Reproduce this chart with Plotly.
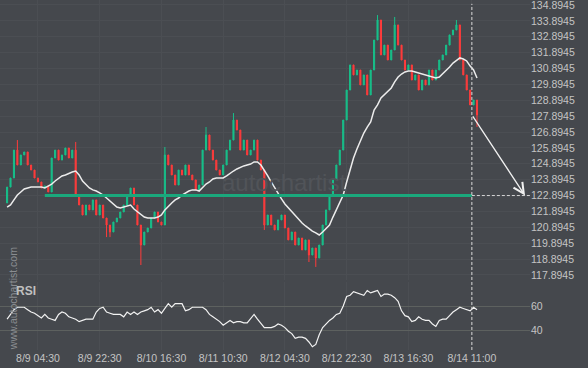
import plotly.graph_objects as go
from plotly.subplots import make_subplots
import pandas as pd

# ---------------- data ----------------
start_time = "2019-08-08 19:30"
first_open = 122.43
closes = [
    123.43, 124.00, 125.76, 124.82, 125.45, 125.64, 124.82, 124.50, 124.00, 123.75,
    123.37, 123.50, 123.12, 125.26, 125.76, 125.13, 125.45, 125.89, 125.26, 125.76,
    122.93, 122.30, 121.67, 122.30, 121.99, 122.62, 121.67, 122.30, 121.48, 121.04,
    120.60, 121.23, 121.48, 121.86, 122.30, 122.93, 123.37, 122.30, 121.04, 119.78,
    120.60, 120.85, 121.48, 121.86, 121.23, 121.04, 125.45, 124.82, 124.19, 123.56,
    124.50, 124.19, 124.82, 124.19, 123.88, 123.25, 123.56, 125.76, 126.71, 125.76,
    125.13, 124.50, 124.19, 124.82, 125.76, 126.39, 127.65, 127.02, 125.76, 126.39,
    125.45, 125.76, 126.39, 125.13, 124.50, 121.04, 121.67, 121.04, 120.73, 121.36,
    121.67, 120.85, 120.10, 120.60, 119.78, 120.22, 119.47, 120.10, 119.15, 119.59,
    118.96, 119.78, 121.04, 121.99, 122.93, 123.88, 124.82, 125.76, 127.65, 129.54,
    131.12, 130.49, 130.80, 129.86, 130.49, 129.23, 130.80, 132.69, 133.95, 131.75,
    132.37, 131.43, 132.06, 133.64, 132.37, 131.43, 130.80, 131.12, 130.17, 130.49,
    129.54, 130.17, 129.86, 130.80, 130.17, 130.80, 131.43, 131.75, 132.37, 133.01,
    133.32, 133.64, 131.43, 130.49, 129.54, 128.60, 128.91, 127.97,
]
wick_highs = {3: 126.39, 20: 126.27, 46: 125.95, 58: 127.21, 66: 128.09,
              108: 134.26, 113: 134.14, 131: 133.95}
wick_lows = {29: 120.28, 30: 120.28, 39: 118.52, 75: 120.73, 88: 118.71,
             90: 118.40, 137: 127.21}
moving_avg = [
    122.17, 122.30, 122.62, 122.93, 123.12, 123.31, 123.37, 123.43, 123.43, 123.43,
    123.43, 123.37, 123.50, 123.62, 123.81, 124.00, 124.13, 124.19, 124.31, 124.38,
    124.44, 124.19, 123.81, 123.56, 123.37, 123.25, 123.18, 123.06, 122.93, 122.74,
    122.55, 122.30, 122.17, 122.11, 122.17, 122.24, 122.30, 122.05, 121.86, 121.67,
    121.54, 121.48, 121.48, 121.48, 121.54, 121.67, 121.99, 122.24, 122.43, 122.62,
    122.74, 122.93, 123.06, 123.18, 123.25, 123.25, 123.18, 123.43, 123.62, 123.75,
    123.94, 124.00, 124.00, 124.00, 124.13, 124.31, 124.44, 124.57, 124.69, 124.76,
    124.82, 124.88, 125.01, 125.01, 124.82, 124.50, 124.13, 123.75, 123.37, 123.06,
    122.68, 122.36, 122.11, 121.86, 121.61, 121.36, 121.17, 120.98, 120.79, 120.66,
    120.54, 120.41, 120.60, 120.79, 121.04, 121.54, 121.99, 122.43, 122.93, 123.75,
    124.50, 125.26, 125.83, 126.39, 126.83, 127.21, 127.53, 128.28, 128.60, 129.04,
    129.23, 129.42, 129.67, 130.05, 130.36, 130.55, 130.68, 130.74, 130.74, 130.68,
    130.61, 130.55, 130.49, 130.42, 130.36, 130.30, 130.36, 130.55, 130.74, 130.99,
    131.24, 131.43, 131.56, 131.49, 131.37, 131.05, 130.80, 130.30,
]
rsi = [
    49, 53, 57, 59, 59, 59, 57, 55, 54, 52,
    50, 53, 50, 49, 48, 53, 55, 54, 51, 50,
    49, 47, 48, 49, 49, 49, 55, 58, 59, 55,
    54, 53, 53, 53, 51, 55, 53, 55, 53, 55,
    56, 57, 59, 55, 57, 54, 58, 62, 59, 62,
    62, 62, 56, 57, 59, 59, 59, 59, 57, 53,
    51, 49, 47, 44, 46, 48, 46, 47, 47, 46,
    46, 50, 53, 49, 45, 42, 42, 42, 43, 45,
    44, 42, 39, 37, 33, 34, 34, 33, 30, 26,
    28, 36, 42, 45, 48, 50, 53, 54, 60, 68,
    69, 72, 71, 70, 69, 73, 71, 72, 73, 68,
    70, 70, 69, 67, 64, 56, 52, 51, 47, 48,
    51, 49, 48, 48, 45, 43, 48, 49, 49, 52,
    55, 57, 59, 58, 57, 56, 59, 57,
]
price_ticks = [117.8945, 118.8945, 119.8945, 120.8945, 121.8945, 122.8945,
               123.8945, 124.8945, 125.8945, 126.8945, 127.8945, 128.8945,
               129.8945, 130.8945, 131.8945, 132.8945, 133.8945, 134.8945]
rsi_ticks = [40, 60]
time_ticks = ["2019-08-09 04:30", "2019-08-09 22:30", "2019-08-10 16:30",
              "2019-08-11 10:30", "2019-08-12 04:30", "2019-08-12 22:30",
              "2019-08-13 16:30", "2019-08-14 11:00"]
time_labels = ["8/9 04:30", "8/9 22:30", "8/10 16:30", "8/11 10:30",
               "8/12 04:30", "8/12 22:30", "8/13 16:30", "8/14 11:00"]

level = 122.8945
level_start = "2019-08-09 06:30"
signal_time = "2019-08-14 11:00"
arrow_start_price = 127.97
arrow_end_time = "2019-08-15 02:30"
x_range = ["2019-08-08 17:26", "2019-08-15 03:57"]
price_range = [117.577, 135.209]
rsi_range = [23.3, 80]

# ---------------- build ----------------
times = pd.date_range(start_time, periods=len(closes), freq="h")
opens = [first_open] + closes[:-1]
highs = [max(o, c) for o, c in zip(opens, closes)]
lows = [min(o, c) for o, c in zip(opens, closes)]
for k, v in wick_highs.items():
    highs[k] = v
for k, v in wick_lows.items():
    lows[k] = v

BG = "#45484d"
GREEN = "#17c08a"
RED = "#ff3b3b"
LEVEL_GREEN = "#1aa87c"
TXT = "#c4c4c4"
FONT = "Arial, Liberation Sans, sans-serif"

fig = make_subplots(rows=2, cols=1, shared_xaxes=True)

fig.add_trace(go.Candlestick(
    x=times, open=opens, high=highs, low=lows, close=closes,
    increasing=dict(line=dict(color=GREEN, width=1), fillcolor=GREEN),
    decreasing=dict(line=dict(color=RED, width=1), fillcolor=RED),
    hoverinfo="skip", showlegend=False), row=1, col=1)

fig.add_trace(go.Scatter(
    x=times, y=moving_avg, mode="lines",
    line=dict(color="#ececec", width=1.5), hoverinfo="skip",
    showlegend=False), row=1, col=1)

fig.add_trace(go.Scatter(
    x=times, y=rsi, mode="lines",
    line=dict(color="#f2f2f2", width=1.2), hoverinfo="skip",
    showlegend=False), row=2, col=1)

# level line (solid green) and dashed continuation
fig.add_shape(type="line", xref="x", yref="y", x0=level_start, x1=signal_time,
              y0=level, y1=level, line=dict(color=LEVEL_GREEN, width=3))
fig.add_shape(type="line", xref="x", yref="y", x0=signal_time, x1=x_range[1],
              y0=level, y1=level, line=dict(color="#d8d8d8", width=1, dash="3px,2px"))
# vertical dashed signal line across both panels
fig.add_shape(type="line", xref="x", yref="paper", x0=signal_time, x1=signal_time,
              y0=0, y1=0.989, line=dict(color="#d8d8d8", width=1, dash="3px,2px"))

# forecast arrow
fig.add_annotation(x=arrow_end_time, y=level, ax=signal_time, ay=arrow_start_price,
                   xref="x", yref="y", axref="x", ayref="y", text="",
                   showarrow=True, arrowhead=5, arrowsize=1.6, arrowwidth=1.3,
                   arrowcolor="#f0f0f0", standoff=0)

# watermarks and labels
fig.add_annotation(xref="paper", yref="paper", x=0.535, y=0.48, text="autochartist",
                   xanchor="center", yanchor="middle", showarrow=False,
                   font=dict(family=FONT, size=24, color="#515459"))
fig.add_annotation(xref="paper", yref="paper", x=0.0245, y=0.148,
                   xanchor="center", yanchor="middle",
                   text="www.autochartist.com", textangle=-90, showarrow=False,
                   font=dict(family=FONT, size=10.5, color="#8a8d91"))
fig.add_annotation(xref="paper", yref="paper", x=0.026, y=0.169, xanchor="left",
                   yanchor="middle", text="<b>RSI</b>", showarrow=False,
                   font=dict(family=FONT, size=12, color="#c0c0c0"))

fig.update_layout(
    width=588, height=368,
    margin=dict(l=0, r=58, t=0, b=18),
    paper_bgcolor=BG, plot_bgcolor=BG,
    font=dict(family=FONT, size=10.5, color=TXT),
    showlegend=False,
    boxgap=0.55,
)
fig.update_xaxes(rangeslider_visible=False, range=x_range, showgrid=True,
                 gridcolor="#4b4e53", gridwidth=1, zeroline=False,
                 showline=False, tickvals=time_ticks, ticktext=time_labels,
                 ticks="", tickfont=dict(size=10.5, color=TXT))
fig.update_xaxes(showticklabels=False, row=1, col=1)
fig.update_yaxes(domain=[0.2, 1], range=price_range, side="right",
                 tickvals=price_ticks, ticktext=[f"{v:.4f}" for v in price_ticks],
                 showgrid=True, gridcolor="#4b4e53", zeroline=False, ticks="",
                 ticklabeloverflow="allow",
                 tickfont=dict(size=10.5, color=TXT), row=1, col=1)
fig.update_yaxes(domain=[0, 0.194], range=rsi_range, side="right",
                 tickvals=rsi_ticks, showgrid=True, gridcolor="#5d615f",
                 zeroline=False, ticks="", tickfont=dict(size=10.5, color=TXT),
                 row=2, col=1)

fig.write_html(
    "out.html",
    config={"displayModeBar": False},
    post_script="document.body.style.margin='0';document.body.style.background='%s';" % BG,
)
